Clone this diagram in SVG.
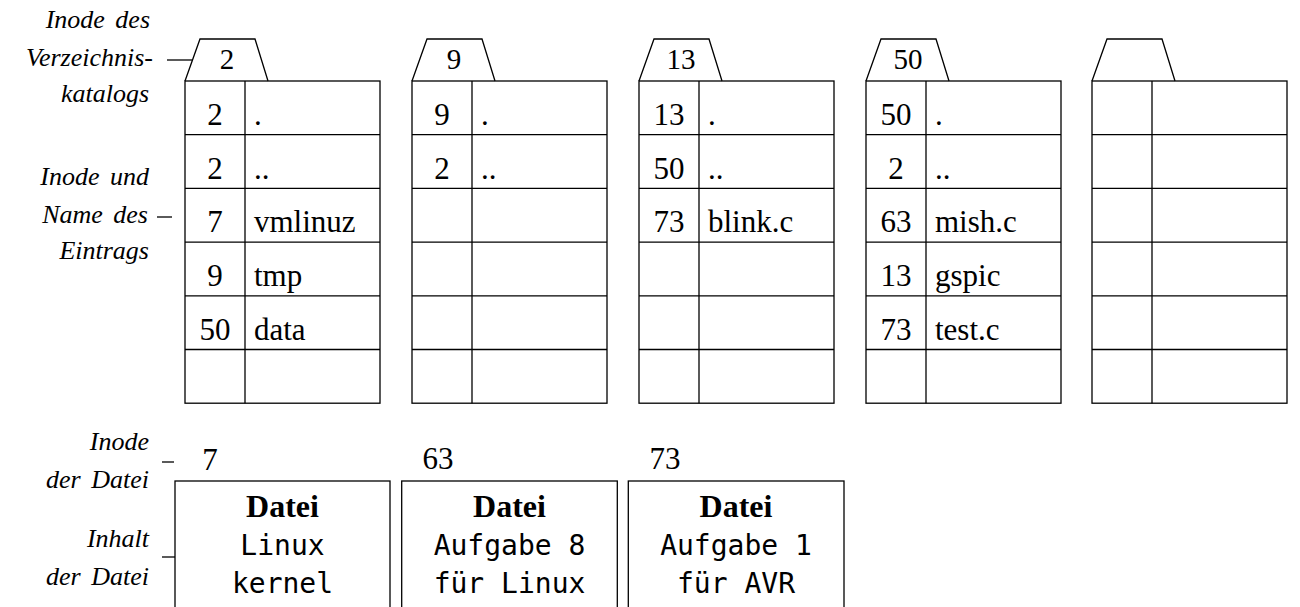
<svg xmlns="http://www.w3.org/2000/svg" width="1300" height="607" viewBox="0 0 1300 607">
<style>
  .ln { fill: none; stroke: #000; stroke-width: 1.3; }
  .num { font-family: "Liberation Serif", "Times New Roman", serif; font-size: 31px; fill: #000; }
  .tab { font-family: "Liberation Serif", "Times New Roman", serif; font-size: 29px; fill: #000; text-anchor: middle; }
  .c { text-anchor: middle; }
  .lab { font-family: "Liberation Serif", "Times New Roman", serif; font-style: italic; font-size: 26px; fill: #000; text-anchor: end; word-spacing: 4px; }
  .bold { font-family: "Liberation Serif", "Times New Roman", serif; font-weight: bold; font-size: 32px; fill: #000; text-anchor: middle; }
  .mono { font-family: "DejaVu Sans Mono", monospace; font-size: 28px; fill: #000; text-anchor: middle; }
</style>
<defs>
  <g id="dirframe">
    <path class="ln" d="M0,0 L15,-42 L70,-42 L83,0"/>
    <rect class="ln" x="0" y="0" width="195" height="322.2"/>
    <line class="ln" x1="60" y1="0" x2="60" y2="322.2"/>
    <line class="ln" x1="0" y1="53.7" x2="195" y2="53.7"/>
    <line class="ln" x1="0" y1="107.4" x2="195" y2="107.4"/>
    <line class="ln" x1="0" y1="161.1" x2="195" y2="161.1"/>
    <line class="ln" x1="0" y1="214.8" x2="195" y2="214.8"/>
    <line class="ln" x1="0" y1="268.5" x2="195" y2="268.5"/>
  </g>
</defs>
<rect width="1300" height="607" fill="#fff"/>

<g id="labels">
  <text class="lab" x="150" y="28">Inode des</text>
  <text class="lab" x="153" y="66">Verzeichnis-</text>
  <text class="lab" x="149" y="102">katalogs</text>
  <text class="lab" x="149" y="185">Inode und</text>
  <text class="lab" x="148" y="223">Name des</text>
  <text class="lab" x="149" y="259">Eintrags</text>
  <text class="lab" x="149" y="450">Inode</text>
  <text class="lab" x="149" y="488">der Datei</text>
  <text class="lab" x="149" y="547">Inhalt</text>
  <text class="lab" x="149" y="585">der Datei</text>
</g>

<g id="connectors">
  <line class="ln" x1="167" y1="60" x2="192" y2="60"/>
  <line class="ln" x1="157" y1="217" x2="172" y2="217"/>
  <line class="ln" x1="162" y1="462" x2="174" y2="462"/>
  <line class="ln" x1="162" y1="557" x2="175" y2="557"/>
</g>

<g id="dir2" transform="translate(185,81)">
  <use href="#dirframe"/>
  <text class="tab" x="42" y="-12">2</text>
  <text class="num c" x="30" y="44">2</text><text class="num" x="69" y="44">.</text>
  <text class="num c" x="30" y="97.7">2</text><text class="num" x="69" y="97.7">..</text>
  <text class="num c" x="30" y="151.4">7</text><text class="num" x="69" y="151.4">vmlinuz</text>
  <text class="num c" x="30" y="205.1">9</text><text class="num" x="69" y="205.1">tmp</text>
  <text class="num c" x="30" y="258.8">50</text><text class="num" x="69" y="258.8">data</text>
</g>

<g id="dir9" transform="translate(412,81)">
  <use href="#dirframe"/>
  <text class="tab" x="42" y="-12">9</text>
  <text class="num c" x="30" y="44">9</text><text class="num" x="69" y="44">.</text>
  <text class="num c" x="30" y="97.7">2</text><text class="num" x="69" y="97.7">..</text>
</g>

<g id="dir13" transform="translate(639,81)">
  <use href="#dirframe"/>
  <text class="tab" x="42" y="-12">13</text>
  <text class="num c" x="30" y="44">13</text><text class="num" x="69" y="44">.</text>
  <text class="num c" x="30" y="97.7">50</text><text class="num" x="69" y="97.7">..</text>
  <text class="num c" x="30" y="151.4">73</text><text class="num" x="69" y="151.4">blink.c</text>
</g>

<g id="dir50" transform="translate(866,81)">
  <use href="#dirframe"/>
  <text class="tab" x="42" y="-12">50</text>
  <text class="num c" x="30" y="44">50</text><text class="num" x="69" y="44">.</text>
  <text class="num c" x="30" y="97.7">2</text><text class="num" x="69" y="97.7">..</text>
  <text class="num c" x="30" y="151.4">63</text><text class="num" x="69" y="151.4">mish.c</text>
  <text class="num c" x="30" y="205.1">13</text><text class="num" x="69" y="205.1">gspic</text>
  <text class="num c" x="30" y="258.8">73</text><text class="num" x="69" y="258.8">test.c</text>
</g>

<g id="dirEmpty" transform="translate(1092,81)">
  <use href="#dirframe"/>
</g>

<g id="file7">
  <text class="num c" x="210" y="470">7</text>
  <rect class="ln" x="175" y="481" width="215" height="140"/>
  <text class="bold" x="282.5" y="517">Datei</text>
  <text class="mono" x="282.5" y="555">Linux</text>
  <text class="mono" x="282.5" y="593">kernel</text>
</g>

<g id="file63">
  <text class="num c" x="438" y="469">63</text>
  <rect class="ln" x="401.7" y="481" width="215.6" height="140"/>
  <text class="bold" x="509.5" y="517">Datei</text>
  <text class="mono" x="509.5" y="555">Aufgabe 8</text>
  <text class="mono" x="509.5" y="593">für Linux</text>
</g>

<g id="file73">
  <text class="num c" x="665" y="469">73</text>
  <rect class="ln" x="628.3" y="481" width="215.7" height="140"/>
  <text class="bold" x="736" y="517">Datei</text>
  <text class="mono" x="736" y="555">Aufgabe 1</text>
  <text class="mono" x="736" y="593">für AVR</text>
</g>
</svg>
